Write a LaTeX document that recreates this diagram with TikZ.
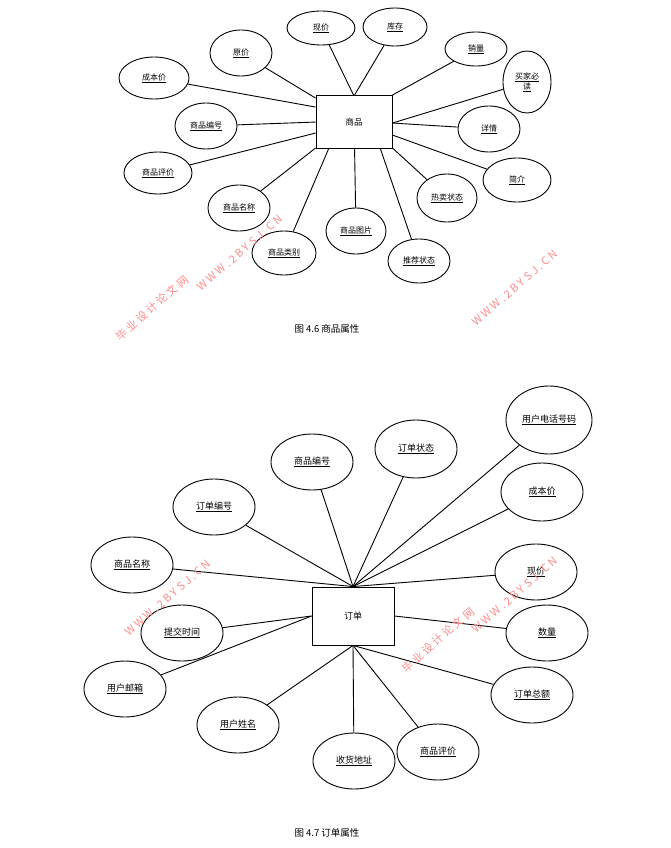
\documentclass[tikz,border=0pt]{standalone}
\usepackage{fontspec}
\setmainfont{Noto Sans CJK SC}
\usetikzlibrary{shapes.geometric}
\begin{document}
\begin{tikzpicture}[x=1pt,y=-1pt,
  ent/.style={draw,line width=0.9pt,minimum width=#1,inner sep=0pt,font=\fontsize{8.5}{10}\selectfont},
  attr/.style={ellipse,draw,line width=0.9pt,inner sep=0pt,align=center,font=\fontsize{8}{10}\selectfont},
  attrb/.style={attr,font=\fontsize{9}{11}\selectfont},
  ln/.style={line width=0.9pt},
  wm/.style={text=red!45!white,rotate=41,font=\fontsize{11}{11}\selectfont}]
\useasboundingbox (0,0) rectangle (670,848);
% ---------- top
\node[ent=76pt,minimum height=53pt] (g) at (354,122) {商品};
\newcommand\att[6][attr]{\node[#1,minimum width=#4*2pt,minimum height=#5*2pt] (#2) at #3 {#6};}
\att{a1}{(321,28)}{34}{17}{\underline{现价}}
\att{a2}{(395,27)}{32}{19}{\underline{库存}}
\att{a3}{(241,53)}{31}{23}{\underline{原价}}
\att{a4}{(476,49)}{31}{17}{\underline{销量}}
\att{a5}{(154,78)}{35}{21}{\underline{成本价}}
\att{a6}{(527,82)}{24}{31}{\underline{买家必}\\\underline{读}}
\att{a7}{(206,126)}{31}{23}{\underline{商品编号}}
\att{a8}{(489,129)}{31}{23}{\underline{详情}}
\att{a9}{(158,173)}{34}{21}{\underline{商品评价}}
\att{a10}{(517,180)}{34}{22}{\underline{简介}}
\att{a11}{(239,208)}{31}{23}{\underline{商品名称}}
\att{a12}{(447,198)}{30}{24}{\underline{热卖状态}}
\att{a13}{(356,231)}{30}{23}{\underline{商品图片}}
\att{a14}{(284,253)}{32}{22}{\underline{商品类别}}
\att{a15}{(419,261)}{31}{22}{\underline{推荐状态}}
\draw[ln] (a1) -- ([xshift=38pt]g.north west);
\draw[ln] (a2) -- ([xshift=39pt]g.north west);
\draw[ln] (a3) -- ([yshift=-3pt]g.north west);
\draw[ln] (a5) -- ([yshift=-12pt]g.north west);
\draw[ln] (a7) -- ([yshift=-27pt]g.north west);
\draw[ln] (a9) -- ([yshift=-38pt]g.north west);
\draw[ln] (a11) -- ([yshift=-53pt]g.north west);
\draw[ln] (a14) -- ([xshift=13pt]g.south west);
\draw[ln] (a13) -- ([xshift=39pt]g.south west);
\draw[ln] (a15) -- ([xshift=-12pt]g.south east);
\draw[ln] (a12) -- ([yshift=1pt]g.south east);
\draw[ln] (a4) -- (g.north east);
\draw[ln] (a6) -- ([yshift=-28pt]g.north east);
\draw[ln] (a8) -- ([yshift=-28pt]g.north east);
\draw[ln] (a10) -- ([yshift=-40pt]g.north east);
\node[font=\fontsize{9.5}{10}\selectfont] (c1) at (327,329) {图 4.6 商品属性};
% ---------- bottom
\node[ent=82pt,minimum height=58pt,font=\fontsize{9}{10}\selectfont] (o) at (353,616) {订单};
\att[attrb]{b1}{(549,420)}{43}{34}{\underline{用户电话号码}}
\att[attrb]{b2}{(416,449)}{41}{29}{\underline{订单状态}}
\att[attrb]{b3}{(312,462)}{41}{28}{\underline{商品编号}}
\att[attrb]{b4}{(542,492)}{41}{29}{\underline{成本价}}
\att[attrb]{b5}{(214,507)}{41}{28}{\underline{订单编号}}
\att[attrb]{b6}{(132,565)}{41}{28}{\underline{商品名称}}
\att[attrb]{b7}{(536,572)}{41}{28}{\underline{现价}}
\att[attrb]{b8}{(182,633)}{41}{28}{\underline{提交时间}}
\att[attrb]{b9}{(547,633)}{41}{28}{\underline{数量}}
\att[attrb]{b10}{(125,689)}{41}{28}{\underline{用户邮箱}}
\att[attrb]{b11}{(532,695)}{41}{28}{\underline{订单总额}}
\att[attrb]{b12}{(238,725)}{41}{28}{\underline{用户姓名}}
\att[attrb]{b13}{(438,752)}{41}{28}{\underline{商品评价}}
\att[attrb]{b14}{(354,761)}{41}{28}{\underline{收货地址}}
\foreach \b in {b1,b2,b3,b4,b5,b6,b7} \draw[ln] (\b) -- (o.north);
\foreach \b in {b8,b10} \draw[ln] (\b) -- (o.west);
\draw[ln] (b9) -- (o.east);
\foreach \b in {b11,b12,b13,b14} \draw[ln] (\b) -- (o.south);
\node[font=\fontsize{9.5}{10}\selectfont] (c2) at (327,833) {图 4.7 订单属性};
% ---------- watermarks
\node[wm] (w1) at (152,308) {毕 业 设 计 论 文 网};
\node[wm] (w2) at (240,253) {W W W . 2 B Y S J . C N};
\node[wm] (w3) at (515,288) {W W W . 2 B Y S J . C N};
\node[wm] (w4) at (168,598) {W W W . 2 B Y S J . C N};
\node[wm] (w5) at (438,640) {毕 业 设 计 论 文 网};
\node[wm] (w6) at (515,595) {W W W . 2 B Y S J . C N};
\end{tikzpicture}
\end{document}
